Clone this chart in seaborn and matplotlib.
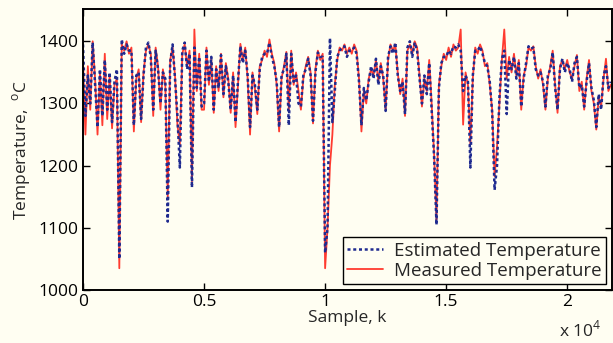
import numpy as np
import pandas as pd
import seaborn as sns
import matplotlib.pyplot as plt

step = 100

measured = [
    1370, 1250, 1360, 1290, 1400, 1340, 1250, 1350, 1265, 1380,
    1275, 1345, 1260, 1330, 1340, 1035, 1395, 1385, 1400, 1380,
    1390, 1255, 1340, 1355, 1270, 1350, 1385, 1395, 1380, 1280,
    1390, 1360, 1290, 1355, 1330, 1150, 1370, 1390, 1345, 1266,
    1234, 1380, 1395, 1360, 1385, 1175, 1419, 1320, 1380, 1290,
    1290, 1390, 1330, 1370, 1285, 1360, 1320, 1380, 1310, 1365,
    1340, 1285, 1350, 1262, 1330, 1396, 1370, 1390, 1340, 1250,
    1350, 1325, 1283, 1360, 1370, 1385, 1375, 1403, 1380, 1365,
    1330, 1255, 1340, 1360, 1383, 1290, 1385, 1330, 1350, 1320,
    1290, 1340, 1360, 1375, 1350, 1268, 1355, 1385, 1370, 1380,
    1035, 1100, 1200, 1250, 1330, 1370, 1390, 1385, 1395, 1380,
    1390, 1380, 1395, 1385, 1340, 1255, 1320, 1300, 1340, 1355,
    1345, 1370, 1335, 1365, 1340, 1290, 1370, 1395, 1385, 1395,
    1350, 1315, 1340, 1280, 1385, 1395, 1380, 1400, 1390, 1345,
    1295, 1340, 1320, 1370, 1300, 1220, 1113, 1330, 1360, 1380,
    1370, 1390, 1375, 1395, 1385, 1390, 1419, 1266, 1350, 1330,
    1234, 1340, 1390, 1380, 1395, 1385, 1360, 1365, 1330, 1290,
    1183, 1230, 1300, 1370, 1419, 1340, 1375, 1350, 1380, 1345,
    1370, 1290, 1345, 1360, 1390, 1385, 1392, 1360, 1340, 1355,
    1330, 1290, 1340, 1360, 1385, 1330, 1285, 1360, 1370, 1355,
    1370, 1350, 1340, 1360, 1378, 1320, 1335, 1290, 1340, 1370,
    1320, 1300, 1258, 1310, 1295, 1340, 1372, 1320, 1330,
]

estimated = [
    1395, 1280, 1345, 1300, 1398, 1330, 1262, 1355, 1280, 1370,
    1290, 1350, 1270, 1335, 1355, 1050, 1403, 1380, 1395, 1385,
    1385, 1265, 1345, 1350, 1275, 1345, 1390, 1398, 1375, 1290,
    1385, 1355, 1300, 1350, 1340, 1110, 1365, 1395, 1340, 1280,
    1197, 1385, 1398, 1355, 1380, 1165, 1390, 1325, 1375, 1295,
    1300, 1385, 1335, 1375, 1290, 1355, 1325, 1378, 1315, 1360,
    1335, 1290, 1345, 1270, 1335, 1392, 1365, 1385, 1345, 1262,
    1345, 1330, 1290, 1355, 1375, 1380, 1380, 1398, 1375, 1360,
    1335, 1262, 1345, 1355, 1380, 1265, 1380, 1335, 1345, 1300,
    1295, 1345, 1355, 1372, 1345, 1272, 1350, 1382, 1375, 1375,
    1060, 1100, 1405, 1270, 1320, 1375, 1385, 1390, 1392, 1375,
    1385, 1385, 1390, 1380, 1335, 1265, 1325, 1305, 1335, 1360,
    1340, 1372, 1330, 1360, 1345, 1288, 1375, 1392, 1380, 1398,
    1345, 1320, 1335, 1283, 1390, 1400, 1375, 1398, 1385, 1340,
    1300, 1345, 1315, 1365, 1290, 1215, 1105, 1325, 1365, 1375,
    1375, 1385, 1380, 1392, 1390, 1395, 1385, 1320, 1345, 1335,
    1197, 1345, 1385, 1385, 1392, 1380, 1365, 1360, 1335, 1285,
    1161, 1200, 1310, 1372, 1385, 1283, 1370, 1355, 1375, 1340,
    1365, 1295, 1340, 1365, 1392, 1388, 1390, 1355, 1345, 1350,
    1335, 1295, 1345, 1355, 1382, 1325, 1290, 1355, 1372, 1350,
    1365, 1355, 1335, 1365, 1375, 1325, 1330, 1295, 1335, 1365,
    1325, 1305, 1262, 1315, 1290, 1345, 1360, 1325, 1335,
]

xticks = [0, 5000, 10000, 15000, 20000]
xtick_labels = ["0", "0.5", "1", "1.5", "2"]
yticks = [1000, 1100, 1200, 1300, 1400]

df = pd.DataFrame({
    "k": np.arange(len(measured)) * step,
    "measured": measured,
    "estimated": estimated,
})

sns.set_theme(style="ticks")
bg = "#fffef2"
plt.rcParams["font.family"] = ["Open Sans", "DejaVu Sans"]
plt.rcParams["mathtext.fontset"] = "custom"
plt.rcParams["mathtext.rm"] = "Open Sans"

fig = plt.figure(figsize=(6.13, 3.43), dpi=100, facecolor=bg)
ax = fig.add_axes([0.1354, 0.1545, 0.8630, 0.8193], facecolor=bg)

sns.lineplot(data=df, x="k", y="measured", ax=ax, color="#ff3b30",
             linewidth=1.3, label="Measured Temperature")
sns.lineplot(data=df, x="k", y="estimated", ax=ax, color="#1f2a8f",
             linewidth=1.8, linestyle=(0, (1.2, 1.1)),
             label="Estimated Temperature")

ax.set_xlim(0, 21850)
ax.set_ylim(1000, 1452)
ax.set_xticks(xticks)
ax.set_xticklabels(xtick_labels)
ax.set_yticks(yticks)
ax.tick_params(direction="in", length=5, width=1, top=True, right=True,
               labelsize=12.5, colors="black", pad=3)
for s in ax.spines.values():
    s.set_linewidth(1.4)
    s.set_color("black")

ax.set_xlabel("Sample, k", fontsize=12.5, labelpad=0)
ax.set_ylabel(r"Temperature,  $^{\mathrm{o}}$C", fontsize=12.5, labelpad=4)

h, l = ax.get_legend_handles_labels()
leg = ax.legend(h[::-1], l[::-1], loc="lower right", fontsize=13.5,
                frameon=True, fancybox=False, borderaxespad=0.3,
                handlelength=1.9, handletextpad=0.6, borderpad=0.25,
                labelspacing=0.1)
leg.get_frame().set_edgecolor("black")
leg.get_frame().set_facecolor(bg)
leg.get_frame().set_linewidth(1.0)
leg.get_frame().set_alpha(1)

fig.text(0.912, 0.02, r"x 10$^{4}$", fontsize=12.5)

fig.savefig("out.png", dpi=100, facecolor=bg)
